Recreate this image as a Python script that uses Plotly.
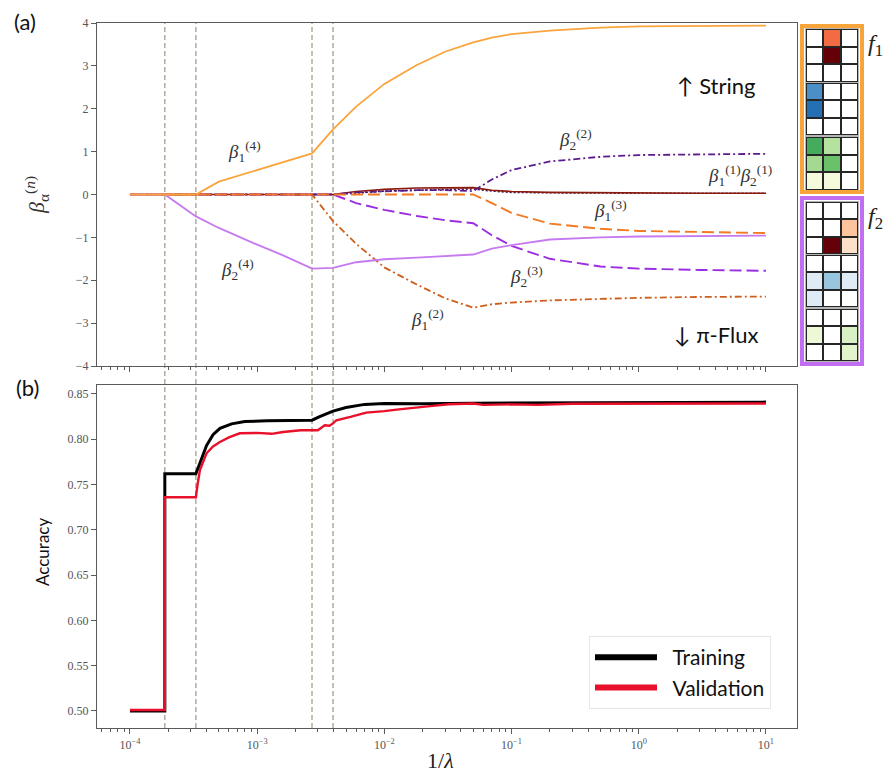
import math
import plotly.graph_objects as go

W, H = 895, 774

# ---------------- panel (a): coefficient paths beta_alpha^(n) vs 1/lambda ----------------
LAM_INV = [1e-4, 1.88e-4, 3.3e-4, 5e-4, 1e-3, 1.6e-3, 2.7e-3, 3.95e-3, 6e-3, 1e-2,
           1.8e-2, 3e-2, 5e-2, 7e-2, 1e-1, 2e-1, 5e-1, 1.0, 3.0, 10.0]
B1_4 = [0, 0, 0, 0.30, 0.57, 0.77, 0.96, 1.52, 2.05, 2.58, 3.02, 3.33, 3.55, 3.66, 3.74, 3.82, 3.89, 3.92, 3.93, 3.94]
B2_4 = [0, 0, -0.51, -0.78, -1.17, -1.42, -1.73, -1.71, -1.58, -1.51, -1.47, -1.43, -1.40, -1.26, -1.18, -1.05, -1.00, -0.98, -0.97, -0.96]
B1_2 = [0, 0, 0, 0, 0, 0, 0, -0.62, -1.15, -1.70, -2.10, -2.42, -2.64, -2.56, -2.52, -2.47, -2.43, -2.41, -2.39, -2.38]
B2_3 = [0, 0, 0, 0, 0, 0, 0, 0, -0.20, -0.36, -0.50, -0.60, -0.67, -0.95, -1.20, -1.50, -1.68, -1.73, -1.76, -1.78]
B1_3 = [0, 0, 0, 0, 0, 0, 0, 0, 0, 0, 0, 0, 0, -0.20, -0.43, -0.68, -0.80, -0.85, -0.88, -0.90]
B2_2 = [0, 0, 0, 0, 0, 0, 0, 0, 0.05, 0.08, 0.10, 0.10, 0.08, 0.35, 0.57, 0.77, 0.88, 0.92, 0.94, 0.95]
B1_1 = [0, 0, 0, 0, 0, 0, 0, 0, 0.07, 0.12, 0.15, 0.16, 0.16, 0.10, 0.07, 0.05, 0.04, 0.03, 0.03, 0.03]
B2_1 = [0, 0, 0, 0, 0, 0, 0, 0, 0.03, 0.08, 0.10, 0.12, 0.13, 0.08, 0.05, 0.04, 0.03, 0.03, 0.03, 0.03]

# ---------------- panel (b): accuracy vs 1/lambda ----------------
TRAIN_X = [1.0e-4, 1.88e-4, 1.88e-4, 3.3e-4, 3.6e-4, 4.0e-4, 4.5e-4, 5.1e-4, 6.3e-4, 8.0e-4,
           1.2e-3, 2.0e-3, 2.7e-3, 3.1e-3, 3.95e-3, 5.0e-3, 7.0e-3, 1.0e-2, 2.0e-2, 5.0e-2,
           1.0e-1, 1.0, 10.0]
TRAIN_Y = [0.500, 0.500, 0.762, 0.762, 0.776, 0.793, 0.805, 0.812, 0.817, 0.8195,
           0.8205, 0.821, 0.821, 0.825, 0.831, 0.8350, 0.8385, 0.8395, 0.8392, 0.8398,
           0.840, 0.8405, 0.841]
VAL_X = [1.0e-4, 1.88e-4, 1.88e-4, 3.3e-4, 3.4e-4, 3.55e-4, 4.0e-4, 4.5e-4, 5.1e-4, 6.0e-4,
         7.3e-4, 1.0e-3, 1.3e-3, 1.6e-3, 2.2e-3, 2.7e-3, 3.0e-3, 3.4e-3, 3.7e-3, 3.95e-3,
         4.2e-3, 5.5e-3, 7.2e-3, 1.0e-2, 1.3e-2, 2.4e-2, 3.2e-2, 5.0e-2, 6.0e-2, 1.0e-1,
         1.6e-1, 3.0e-1, 1.0, 10.0]
VAL_Y = [0.501, 0.501, 0.736, 0.736, 0.750, 0.766, 0.7845, 0.792, 0.797, 0.802,
         0.8066, 0.807, 0.806, 0.808, 0.8100, 0.8095, 0.810, 0.8155, 0.815, 0.8175,
         0.821, 0.825, 0.8294, 0.831, 0.833, 0.8368, 0.8386, 0.8395, 0.838, 0.8385,
         0.838, 0.8392, 0.8395, 0.8395]

# transitions marked by dashed guides
TRANSITIONS = [1.88e-4, 3.3e-4, 2.7e-3, 3.95e-3]

# x tick labels
X_TICKS = [1e-4, 1e-3, 1e-2, 1e-1, 1.0, 10.0]
X_TICK_TEXT = ['10<sup>−4</sup>', '10<sup>−3</sup>', '10<sup>−2</sup>', '10<sup>−1</sup>',
               '10<sup>0</sup>', '10<sup>1</sup>']

# ---------------- kernel filters f1 / f2 (3x3 cells, rows top to bottom) ----------------
F1_RED = [[0, 0.6, 0], [0, 1.0, 0], [0, 0, 0]]
F1_BLUE = [[0.75, 0, 0], [0.9, 0, 0], [0, 0, 0]]
F1_GREEN = [[0.75, 0.35, 0], [0.4, 0.6, 0], [0.08, 0.08, 0]]
F2_RED = [[0, 0, 0], [0, 0, 0.3], [0, 1.0, 0.2]]
F2_BLUE = [[0, 0, 0], [0.15, 0.45, 0.15], [0.15, 0, 0]]
F2_GREEN = [[0, 0, 0], [0.1, 0, 0.2], [0, 0, 0.15]]

RED_SCALE = [[0, '#ffffff'], [0.2, '#fde0c8'], [0.3, '#fcc49c'], [0.6, '#f26b43'], [1, '#660008']]
BLUE_SCALE = [[0, '#ffffff'], [0.15, '#deebf5'], [0.45, '#98c6de'], [0.75, '#4a8fc6'],
              [0.9, '#2470b3'], [1, '#08519c']]
GREEN_SCALE = [[0, '#ffffff'], [0.08, '#f4fadb'], [0.1, '#eff8d6'], [0.15, '#e2f4cc'],
               [0.2, '#d9f0c4'], [0.35, '#b6e2a0'], [0.4, '#a4d992'], [0.6, '#6bc169'],
               [0.75, '#44ac5c'], [1, '#1b7837']]


def px_x(p):
    return p / W


def px_y(p):
    return 1 - p / H


XDOM = [px_x(97), px_x(797)]
YDOM_A = [px_y(366), px_y(23)]
YDOM_B = [px_y(728), px_y(385)]
XRANGE = [-4.259, 1.244]

AXIS_COLOR = '#5a5a5a'
TICK_FONT = dict(family='Liberation Serif, DejaVu Serif, serif', size=12, color='#555555')
SANS = 'Lato, Open Sans, DejaVu Sans, sans-serif'
SERIF = 'Liberation Serif, DejaVu Serif, serif'

fig = go.Figure()

paths = [
    ('β₂⁽¹⁾', B2_1, '#3a0a56', '2px,2px', 1.6),
    ('β₁⁽¹⁾', B1_1, '#8a1a0a', 'solid', 1.6),
    ('β₂⁽²⁾', B2_2, '#5c1a8c', '7px,3px,2px,3px', 1.8),
    ('β₁⁽²⁾', B1_2, '#cf5f1c', '7px,3px,2px,3px', 1.8),
    ('β₂⁽³⁾', B2_3, '#9a2ee0', '12px,5px', 1.9),
    ('β₁⁽³⁾', B1_3, '#f27a22', '12px,5px', 1.9),
    ('β₂⁽⁴⁾', B2_4, '#c67af0', 'solid', 1.8),
    ('β₁⁽⁴⁾', B1_4, '#f9a43c', 'solid', 1.8),
]
for name, vals, color, dash, width in paths:
    fig.add_trace(go.Scatter(x=LAM_INV, y=vals, mode='lines', name=name, showlegend=False,
                             line=dict(color=color, dash=dash, width=width),
                             xaxis='x', yaxis='y'))

fig.add_trace(go.Scatter(x=TRAIN_X, y=TRAIN_Y, mode='lines', showlegend=False,
                         line=dict(color='#000000', width=3), xaxis='x2', yaxis='y2'))
fig.add_trace(go.Scatter(x=VAL_X, y=VAL_Y, mode='lines', showlegend=False,
                         line=dict(color='#e8102a', width=2.4), xaxis='x2', yaxis='y2'))
# legend entries with thicker swatches
fig.add_trace(go.Scatter(x=[None], y=[None], mode='lines', name='\u2002Training',
                         line=dict(color='#000000', width=6), xaxis='x2', yaxis='y2'))
fig.add_trace(go.Scatter(x=[None], y=[None], mode='lines', name='\u2002Validation',
                         line=dict(color='#e8102a', width=6), xaxis='x2', yaxis='y2'))

# filter kernels drawn as heatmaps on small dedicated axes
kernels = [
    (F1_RED, RED_SCALE, 29, 82),
    (F1_BLUE, BLUE_SCALE, 83, 135),
    (F1_GREEN, GREEN_SCALE, 137, 190),
    (F2_RED, RED_SCALE, 202, 254),
    (F2_BLUE, BLUE_SCALE, 255, 307),
    (F2_GREEN, GREEN_SCALE, 309, 361),
]
layout_axes = {}
shapes = []
for i, (z, scale, top, bot) in enumerate(kernels):
    k = i + 3
    fig.add_trace(go.Heatmap(z=z, colorscale=scale, zmin=0, zmax=1, showscale=False,
                             xgap=2, ygap=2, hoverinfo='skip',
                             xaxis=f'x{k}', yaxis=f'y{k}'))
    layout_axes[f'xaxis{k}'] = dict(domain=[px_x(806), px_x(858)], anchor=f'y{k}',
                                    range=[-0.5, 2.5], showticklabels=False, ticks='',
                                    showgrid=False, zeroline=False, showline=True,
                                    mirror=True, linecolor='#b5b5b5', linewidth=1,
                                    automargin=False)
    layout_axes[f'yaxis{k}'] = dict(domain=[px_y(bot), px_y(top)], anchor=f'x{k}',
                                    range=[2.5, -0.5], showticklabels=False, ticks='',
                                    showgrid=False, zeroline=False, showline=True,
                                    mirror=True, linecolor='#b5b5b5', linewidth=1,
                                    automargin=False)
    shapes.append(dict(type='rect', xref=f'x{k} domain', yref=f'y{k} domain',
                       x0=0, x1=1, y0=0, y1=1, fillcolor='#262626',
                       line=dict(width=0), layer='below'))

# coloured frames around f1 / f2
shapes.append(dict(type='rect', xref='paper', yref='paper', x0=px_x(802), x1=px_x(862),
                   y0=px_y(192), y1=px_y(26), line=dict(color='#f7a43a', width=4)))
shapes.append(dict(type='rect', xref='paper', yref='paper', x0=px_x(802), x1=px_x(862),
                   y0=px_y(364), y1=px_y(198), line=dict(color='#c26ef0', width=4)))

# dashed guides across both panels
for xv in TRANSITIONS:
    shapes.append(dict(type='line', xref='x2', yref='paper', x0=xv, x1=xv,
                       y0=YDOM_B[0], y1=YDOM_A[1],
                       line=dict(color='#a49682', width=1.2, dash='5px,3px'), layer='below'))


def beta(sub, sup):
    return f'<i>β</i><sub>{sub}</sub><sup>({sup})</sup>'


BETA_LABELS = [
    (1, 4, 8.0e-4, 1.0),
    (2, 4, 7.0e-4, -1.75),
    (2, 2, 0.32, 1.29),
    (1, 3, 0.60, -0.37),
    (2, 3, 0.13, -1.92),
    (1, 2, 0.022, -2.92),
]
annotations = []
for sub, sup, xv, yv in BETA_LABELS:
    annotations.append(dict(x=math.log10(xv), y=yv, xref='x', yref='y', text=beta(sub, sup),
                            showarrow=False, xanchor='center', yanchor='middle',
                            font=dict(family=SERIF, size=19, color='#333333')))
annotations.append(dict(x=math.log10(6.3), y=0.44, xref='x', yref='y',
                        text=beta(1, 1) + beta(2, 1), showarrow=False,
                        xanchor='center', yanchor='middle',
                        font=dict(family=SERIF, size=19, color='#333333')))


def label(xp, yp, text, font, **kw):
    d = dict(x=px_x(xp), y=px_y(yp), xref='paper', yref='paper', text=text,
             showarrow=False, xanchor='center', yanchor='middle', font=font)
    d.update(kw)
    return d


annotations += [
    label(25, 22, '(a)', dict(family=SANS, size=22, color='#111111')),
    label(27, 387, '(b)', dict(family=SANS, size=22, color='#111111')),
    label(716, 85, '↑ String', dict(family=SANS, size=22, color='#111111')),
    label(716, 335, '↓ π-Flux', dict(family=SANS, size=22, color='#111111')),
    label(36, 195, '<i>β</i><sub>α</sub><sup>(<i>n</i>)</sup>',
          dict(family=SERIF, size=22, color='#333333'), textangle=-90),
    label(42, 552, 'Accuracy', dict(family=SANS, size=17, color='#111111'), textangle=-90),
    label(440, 760, '1/<i>λ</i>', dict(family=SERIF, size=22, color='#222222')),
    label(866, 45, '<i>f</i><sub>1</sub>', dict(family=SERIF, size=24, color='#222222'),
          xanchor='left'),
    label(866, 218, '<i>f</i><sub>2</sub>', dict(family=SERIF, size=24, color='#222222'),
          xanchor='left'),
]

minor_log = dict(ticks='outside', ticklen=3, tickcolor=AXIS_COLOR, dtick='D1', showgrid=False)
common_x = dict(type='log', range=XRANGE, domain=XDOM, showgrid=False, zeroline=False,
                showline=True, mirror=True, linecolor=AXIS_COLOR, linewidth=1.3,
                ticks='outside', ticklen=5, tickcolor=AXIS_COLOR,
                tickvals=X_TICKS, ticktext=X_TICK_TEXT, tickfont=TICK_FONT,
                minor=minor_log, automargin=False)
common_y = dict(showgrid=False, zeroline=False, showline=True, mirror=True,
                linecolor=AXIS_COLOR, linewidth=1.3, ticks='outside', ticklen=5,
                tickcolor=AXIS_COLOR, tickfont=TICK_FONT, automargin=False)

fig.update_layout(
    width=W, height=H,
    margin=dict(l=0, r=0, t=0, b=0, autoexpand=False),
    paper_bgcolor='white', plot_bgcolor='white',
    xaxis=dict(common_x, anchor='y', showticklabels=False),
    yaxis=dict(common_y, domain=YDOM_A, anchor='x', range=[-4, 4], dtick=1),
    xaxis2=dict(common_x, anchor='y2'),
    yaxis2=dict(common_y, domain=YDOM_B, anchor='x2', range=[0.4812, 0.8599],
                tick0=0.5, dtick=0.05, tickformat='.2f'),
    shapes=shapes,
    annotations=annotations,
    legend=dict(x=px_x(589), y=px_y(636), xanchor='left', yanchor='top',
                bgcolor='white', bordercolor='#e6e6e6', borderwidth=1,
                font=dict(family=SANS, size=21, color='#111111'), itemwidth=62,
                tracegroupgap=0),
    **layout_axes,
)

fig.write_html('out.html')
